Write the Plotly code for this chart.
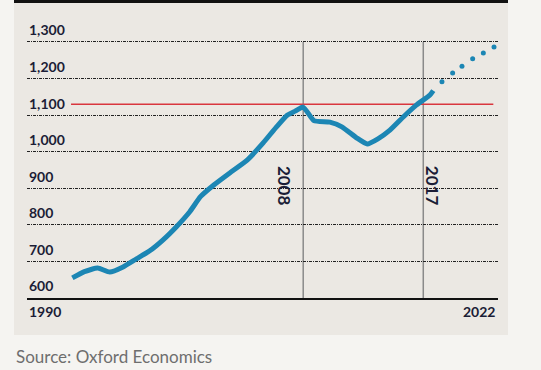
import plotly.graph_objects as go

# ---- data ----
hist_years = [1990.7, 1991.6, 1992.6, 1993.5, 1994.5, 1995.5, 1996.5, 1997.5, 1998.5,
              1999.5, 2000.3, 2001.3, 2002.5, 2003.8, 2005.0, 2006.0, 2006.8, 2007.4,
              2008.0, 2008.8, 2010.0, 2010.9, 2012.0, 2012.8, 2013.6, 2014.5, 2015.5,
              2016.5, 2017.5, 2017.75]
hist_values = [655, 672, 682, 671, 685, 707, 729, 759, 795,
               836, 877, 909, 942, 977, 1024, 1068, 1100, 1111,
               1122, 1085, 1081, 1068, 1038, 1021, 1035, 1059, 1095,
               1128, 1155, 1167]
fc_years = [2018.4, 2019.2, 2019.9, 2020.7, 2021.5, 2022.3]
fc_values = [1191, 1215, 1234, 1254, 1270, 1286]

y_ticks = [600, 700, 800, 900, 1000, 1100, 1200, 1300]
y_tick_labels = ["600", "700", "800", "900", "1,000", "1,100", "1,200", "1,300"]
marker_years = [2008, 2017]
marker_labels = ["2008", "2017"]
axis_start_label = "1990"
axis_end_label = "2022"
ref_level = 1130
source_text = "Source: Oxford Economics"

W, H = 541, 370
BLUE = "#1c86b4"
NAVY = "#1b1d36"
FONT = "Lato"
PX_PER_UNIT = 256 / 700  # vertical pixels per value unit

fig = go.Figure()
fig.add_trace(go.Scatter(x=hist_years, y=hist_values, mode="lines",
                         line=dict(color=BLUE, width=5, shape="spline", smoothing=0.5),
                         hoverinfo="skip", showlegend=False))
fig.add_trace(go.Scatter(x=fc_years, y=fc_values, mode="markers",
                         marker=dict(color=BLUE, size=5),
                         hoverinfo="skip", showlegend=False))

shapes = []
# panel background
shapes.append(dict(type="rect", xref="paper", yref="paper",
                   x0=14 / W, x1=508 / W, y0=(H - 335) / H, y1=(H - 2) / H,
                   fillcolor="#ebe8e3", line=dict(width=0), layer="below"))
shapes.append(dict(type="rect", xref="paper", yref="paper",
                   x0=14 / W, x1=508 / W, y0=(H - 3) / H, y1=1,
                   fillcolor="#111111", line=dict(width=0), layer="below"))
# vertical markers
for yr in marker_years:
    shapes.append(dict(type="line", xref="x", yref="y", x0=yr, x1=yr,
                       y0=y_ticks[0], y1=y_ticks[-1],
                       line=dict(color="#8a8a8a", width=1.5), layer="below"))
# red reference line
shapes.append(dict(type="line", xref="x", yref="y", x0=1990.6, x1=2022.25,
                   y0=ref_level, y1=ref_level,
                   line=dict(color="#d9363e", width=1.5), layer="below"))

annotations = []
for v, t in zip(y_ticks, y_tick_labels):
    annotations.append(dict(x=27 / W, xref="paper", xanchor="left",
                            y=v, yref="y", yanchor="middle", yshift=12,
                            text=t, showarrow=False,
                            font=dict(family=FONT, size=14, color=NAVY, weight="bold")))
# rotated year labels
annotations.append(dict(x=marker_years[0], xref="x", xshift=-18, y=906, yref="y",
                        text=marker_labels[0], textangle=90, showarrow=False,
                        font=dict(family=FONT, size=17, color=NAVY, weight="bold")))
annotations.append(dict(x=marker_years[1], xref="x", xshift=10, y=906, yref="y",
                        text=marker_labels[1], textangle=90, showarrow=False,
                        font=dict(family=FONT, size=17, color=NAVY, weight="bold")))
annotations.append(dict(x=27 / W, xref="paper", xanchor="left",
                        y=(H - 311) / H, yref="paper", yanchor="middle",
                        text=axis_start_label, showarrow=False,
                        font=dict(family=FONT, size=14, color=NAVY, weight="bold")))
annotations.append(dict(x=497 / W, xref="paper", xanchor="right",
                        y=(H - 311) / H, yref="paper", yanchor="middle",
                        text=axis_end_label, showarrow=False,
                        font=dict(family=FONT, size=14, color=NAVY, weight="bold")))
annotations.append(dict(x=14 / W, xref="paper", xanchor="left",
                        y=(H - 356) / H, yref="paper", yanchor="middle",
                        text=source_text, showarrow=False,
                        font=dict(family=FONT, size=17, color="#6e6e6e")))

y_top = 1320
top_px = 298 - (y_top - 600) * PX_PER_UNIT

fig.update_layout(
    width=W, height=H,
    margin=dict(l=0, r=0, t=0, b=0),
    paper_bgcolor="#f5f4f1",
    plot_bgcolor="rgba(0,0,0,0)",
    shapes=shapes,
    annotations=annotations,
    xaxis=dict(domain=[27 / W, 498 / W], range=[1987.3, 2022.6],
               showgrid=False, zeroline=False, showticklabels=False,
               showline=True, linecolor="#111111", linewidth=1.5, ticks=""),
    yaxis=dict(domain=[(H - 298) / H, (H - top_px) / H], range=[600, y_top],
               tickvals=y_ticks[1:], showticklabels=False, zeroline=False,
               showgrid=True, gridcolor="#222222", gridwidth=1,
               griddash="3px,1px,1px,1px"),
)

fig.write_html("out.html", config={"displayModeBar": False},
               post_script="document.body.style.margin='0';document.body.style.background='#f5f4f1';")
